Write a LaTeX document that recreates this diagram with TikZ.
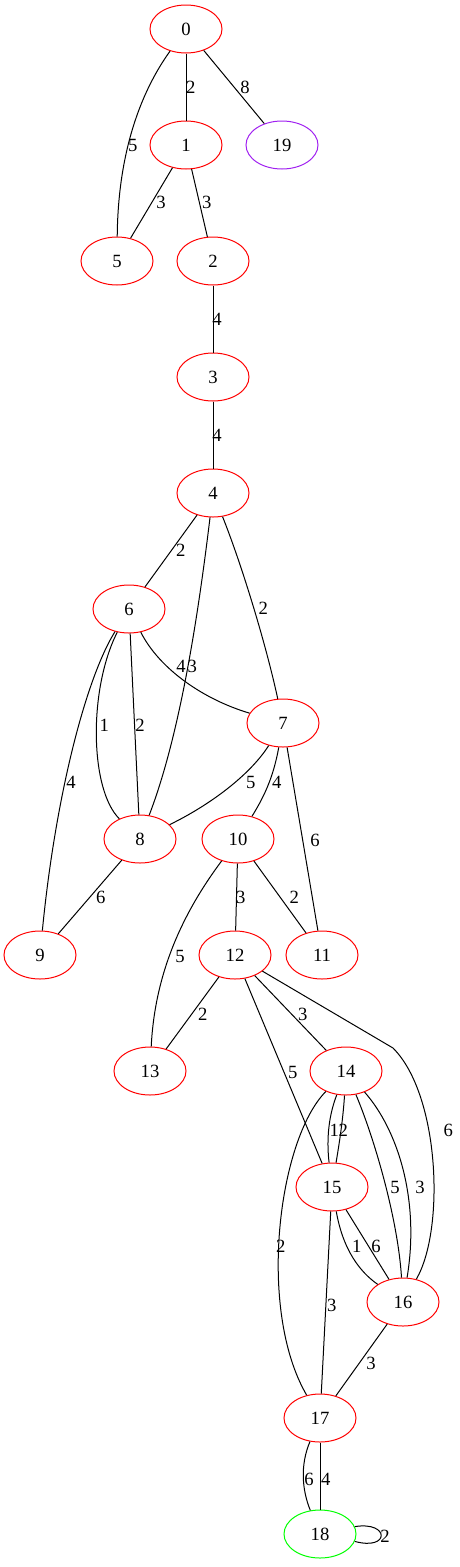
\documentclass[tikz,border=0pt]{standalone}
\usepackage{fontspec}
\setmainfont{Liberation Serif}
\usetikzlibrary{shapes.geometric}
\definecolor{gvpurple}{HTML}{A020F0}
\definecolor{gvgreen}{HTML}{00FF00}
\begin{document}
\begin{tikzpicture}[x=1pt,y=-1pt,
  vert/.style={ellipse,draw=red,line width=1pt,minimum width=72pt,minimum height=48pt,inner sep=0pt,font=\fontsize{18.67}{20}\selectfont},
  lab/.style={inner sep=0pt,font=\fontsize{18.67}{20}\selectfont},
  edge/.style={draw=black,line width=1pt}]
\useasboundingbox (0,0) rectangle (460,1567);
\node[vert] (n0) at (186,29) {0};
\node[vert] (n1) at (186,145) {1};
\node[vert,draw=gvpurple] (n19) at (282,145) {19};
\node[vert] (n5) at (117,261) {5};
\node[vert] (n2) at (213,261) {2};
\node[vert] (n3) at (213,377) {3};
\node[vert] (n4) at (213,493) {4};
\node[vert] (n6) at (129,609) {6};
\node[vert] (n7) at (283,723) {7};
\node[vert] (n8) at (140,839) {8};
\node[vert] (n10) at (238,839) {10};
\node[vert] (n9) at (40,955) {9};
\node[vert] (n11) at (322,955) {11};
\node[vert] (n12) at (235,955) {12};
\node[vert] (n13) at (150,1071) {13};
\node[vert] (n14) at (346,1071) {14};
\node[vert] (n15) at (332,1187) {15};
\node[vert] (n16) at (403,1302) {16};
\node[vert] (n17) at (320,1418) {17};
\node[vert,draw=gvgreen] (n18) at (320,1534) {18};
\coordinate (b1216) at (393,1048);

% edges
\path[edge] (n0) -- (n1);
\path[edge] (n0) -- (n19);
\path[edge] (n0) .. controls (142,90) and (118,150) .. (n5);
\path[edge] (n1) -- (n5);
\path[edge] (n1) -- (n2);
\path[edge] (n2) -- (n3);
\path[edge] (n3) -- (n4);
\path[edge] (n4) -- (n6);
\path[edge] (n4) .. controls (200,600) and (182,730) .. (n8);
\path[edge] (n4) .. controls (240,560) and (265,640) .. (n7);
\path[edge] (n6) .. controls (160,670) and (205,700) .. (n7);
\path[edge] (n6) .. controls (88,690) and (90,790) .. (n8);
\path[edge] (n6) -- (n8);
\path[edge] (n6) .. controls (85,680) and (55,800) .. (n9);
\path[edge] (n7) .. controls (250,775) and (210,805) .. (n8);
\path[edge] (n7) .. controls (273,780) and (262,800) .. (n10);
\path[edge] (n7) -- (n11);
\path[edge] (n8) -- (n9);
\path[edge] (n10) -- (n12);
\path[edge] (n10) -- (n11);
\path[edge] (n10) .. controls (185,910) and (155,970) .. (n13);
\path[edge] (n12) -- (n13);
\path[edge] (n12) -- (n14);
\path[edge] (n12) -- (n15);
\path[edge] (n12) -- (b1216) .. controls (440,1095) and (445,1230) .. (n16);
\path[edge] (n14) .. controls (327,1120) and (327,1145) .. (n15);
\path[edge] (n14) .. controls (343,1120) and (339,1145) .. (n15);
\path[edge] (n14) .. controls (375,1140) and (398,1220) .. (n16);
\path[edge] (n14) .. controls (398,1130) and (420,1200) .. (n16);
\path[edge] (n14) .. controls (278,1140) and (257,1310) .. (n17);
\path[edge] (n15) .. controls (343,1250) and (360,1272) .. (n16);
\path[edge] (n15) -- (n16);
\path[edge] (n15) -- (n17);
\path[edge] (n16) -- (n17);
\path[edge] (n17) .. controls (300,1465) and (302,1490) .. (n18);
\path[edge] (n17) -- (n18);
\path[edge] (n18.12) .. controls (390,1521) and (390,1551) .. (n18.-12);

% labels
\node[lab] (l01) at (190.7,87) {2};
\node[lab] (l019) at (245,87) {8};
\node[lab] (l05) at (132.7,145) {5};
\node[lab] (l15) at (161,202) {3};
\node[lab] (l12) at (206.7,202) {3};
\node[lab] (l23) at (217,319) {4};
\node[lab] (l34) at (217,435) {4};
\node[lab] (l46) at (180.7,550.7) {2};
\node[lab] (l47) at (263.3,608) {2};
\node[lab] (l67) at (181,666) {4};
\node[lab] (l48) at (192.3,666) {3};
\node[lab] (l68a) at (104.3,725) {1};
\node[lab] (l68b) at (140,725) {2};
\node[lab] (l69) at (71,782) {4};
\node[lab] (l78) at (250.7,782) {5};
\node[lab] (l710) at (276.7,782) {4};
\node[lab] (l711) at (315,840.7) {6};
\node[lab] (l89) at (100.7,897.7) {6};
\node[lab] (l1012) at (240.7,897.7) {3};
\node[lab] (l1011) at (294.3,897.7) {2};
\node[lab] (l1013) at (180,956.7) {5};
\node[lab] (l1213) at (202.7,1014) {2};
\node[lab] (l1214) at (302.7,1014) {3};
\node[lab] (l1215) at (292.7,1072.7) {5};
\node[lab] (l1216) at (448.3,1130) {6};
\node[lab] (l1415a) at (334.3,1130) {1};
\node[lab] (l1415b) at (343.3,1130) {2};
\node[lab] (l1416a) at (395,1187.7) {5};
\node[lab] (l1416b) at (420,1187.7) {3};
\node[lab] (l1417) at (280.7,1246) {2};
\node[lab] (l1516a) at (356.7,1246.7) {1};
\node[lab] (l1516b) at (376,1246.7) {6};
\node[lab] (l1517) at (331.7,1305) {3};
\node[lab] (l1617) at (371,1363) {3};
\node[lab] (l1718a) at (309,1479.3) {6};
\node[lab] (l1718b) at (325.7,1479.3) {4};
\node[lab] (l1818) at (385,1536) {2};
\end{tikzpicture}
\end{document}
